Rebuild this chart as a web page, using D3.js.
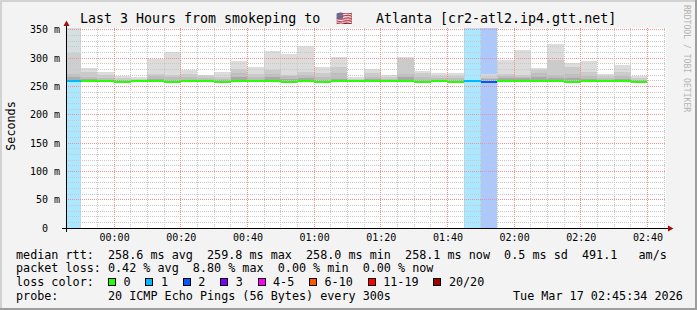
<!DOCTYPE html>
<html><head><meta charset="utf-8">
<script src="https://cdn.jsdelivr.net/npm/d3@7"></script>
<style>
html,body{margin:0;padding:0;background:#f3f3f3;}
svg{display:block;}
text{font-family:"DejaVu Sans Mono",monospace;white-space:pre;}
</style></head><body>
<svg id="c" width="697" height="310"></svg>
<script>
// ---- data ----
const binStarts = ["23:45","23:50","23:55","00:00","00:05","00:10","00:15","00:20","00:25","00:30","00:35","00:40","00:45","00:50","00:55","01:00","01:05","01:10","01:15","01:20","01:25","01:30","01:35","01:40","01:45","01:50","01:55","02:00","02:05","02:10","02:15","02:20","02:25","02:30","02:35"];
const median = [259.0,259.6,259.4,258.1,259.3,259.7,258.0,259.5,259.2,258.2,259.6,259.4,259.8,258.1,259.5,258.0,259.3,259.6,259.4,259.2,259.5,258.1,259.3,258.2,258.6,258.4,259.5,259.7,259.3,259.4,258.0,259.6,259.2,259.5,258.1];
const lossPings = [1,0,0,0,0,0,0,0,0,0,0,0,0,0,0,0,0,0,0,0,0,0,0,0,1,2,0,0,0,0,0,0,0,0,0];
const smokeMax  = [360,282,274.6,267.5,266.5,297.5,310.6,278,270.5,274.6,295,285,311.6,307,320.5,283.4,301.7,265.7,280.6,270.5,301.7,277.6,273.5,273.5,262,271,297,314.6,282.3,325,291,294,272,287,267.5];
const smokeHi   = [309,276,270.5,265,263,272,270.5,272,267.5,265.8,280.5,272,279,270.5,276,273.5,285,263,273.5,265.7,298.2,273.5,269,268,261,268,271.7,270.5,278,297,285,276,269,274.6,265];
const smokeMid  = [272,266,265,262,261.5,268.7,266.5,266,264,263,273.5,267,272,267.5,270,267,273.5,261.5,267,263,271.8,266,265,265,260.5,265,268,267,273.5,270,271,268,265,268,262];
const smokeDark = [267,263,262,260.5,260.5,263,262,262,261.5,261,266,262,266.5,263,265,262,263,260.5,263,261,267,262,262,262,260,263,264,264,266,265,264,263,262,263,260.5];
const yTicks = [0,50,100,150,200,250,300,350];
const yTickLabels = ["0  ","50 m","100 m","150 m","200 m","250 m","300 m","350 m"];
const xTickLabels = ["00:00","00:20","00:40","01:00","01:20","01:40","02:00","02:20","02:40"];
const lossLabels = ["0","1","2","3","4-5","6-10","11-19","20/20"];
const lossColors = ["#26ff00","#00b8ff","#0059ff","#7e00ff","#ff00ff","#ff5500","#ff0000","#a10000"];
const rttStats = ["258.6 ms avg","259.8 ms max","258.0 ms min","258.1 ms now","0.5 ms sd","491.1   am/s"];
const lossStats = ["0.42 % avg","8.80 % max","0.00 % min","0.00 % now"];
const titleParts = ["Last 3 Hours from smokeping to","🇺🇸","Atlanta [cr2-atl2.ip4.gtt.net]"];
const probeText = "20 ICMP Echo Pings (56 Bytes) every 300s";
const stampText = "Tue Mar 17 02:45:34 2026";

// ---- helpers ----
function toDate(hm){const [h,m]=hm.split(":").map(Number);return h>=12?new Date(2026,2,16,h,m,0):new Date(2026,2,17,h,m,0);}
function lossIdx(n){if(n<=3)return n;if(n<=5)return 4;if(n<=10)return 5;if(n<=19)return 6;return 7;}

const svg = d3.select("#c");
const W=697,H=310;
const X0=66,X1=666,Y0=228,Y1=28;
const t0=new Date(2026,2,16,23,45,34), t1=new Date(2026,2,17,2,45,34);
const x=d3.scaleTime().domain([t0,t1]).range([X0,X1]);
const y=d3.scaleLinear().domain([0,353]).range([Y0,Y1]);

// background and frame
svg.append("rect").attr("width",W).attr("height",H).attr("fill","#f3f3f3");
svg.append("rect").attr("x",0).attr("y",0).attr("width",W).attr("height",2).attr("fill","#d2d2d2");
svg.append("rect").attr("x",0).attr("y",0).attr("width",2).attr("height",H).attr("fill","#d2d2d2");
svg.append("rect").attr("x",0).attr("y",H-2).attr("width",W).attr("height",2).attr("fill","#9e9e9e");
svg.append("rect").attr("x",W-2).attr("y",0).attr("width",2).attr("height",H).attr("fill","#9e9e9e");

svg.append("rect").attr("x",X0).attr("y",Y1).attr("width",X1-X0).attr("height",Y0-Y1).attr("fill","#ffffff");

svg.append("defs").append("clipPath").attr("id","pc").append("rect")
  .attr("x",X0).attr("y",Y1).attr("width",X1-X0).attr("height",Y0-Y1);
const plot=svg.append("g").attr("clip-path","url(#pc)").attr("shape-rendering","crispEdges");

const bins=binStarts.map((s,i)=>{const a=toDate(s);const b=new Date(+a+300000);
  return {i,x0:Math.max(X0,Math.round(x(a))),x1:Math.round(x(b)),med:median[i],loss:lossPings[i]};});

// loss background columns
plot.append("g").selectAll("rect").data(bins.filter(d=>d.loss>0)).join("rect")
  .attr("x",d=>d.x0).attr("width",d=>d.x1-d.x0).attr("y",Y1).attr("height",Y0-Y1)
  .attr("fill",d=>d3.interpolateRgb("#ffffff",lossColors[lossIdx(d.loss)])(0.33));

// smoke layers
const layers=[[smokeMax,"#dcdcdc"],[smokeHi,"#cbcbcb"],[smokeMid,"#bdbdbd"],[smokeDark,"#a9a9a9"]];
layers.forEach(([arr,col])=>{
  plot.append("g").selectAll("rect").data(bins).join("rect")
    .attr("x",d=>d.x0).attr("width",d=>d.x1-d.x0)
    .attr("y",d=>Math.round(y(arr[d.i])))
    .attr("height",d=>Math.max(0,Math.round(y(d.med))-Math.round(y(arr[d.i]))))
    .attr("fill",col).attr("fill-opacity",d=>d.loss>0?0.85:1);
});

// grid
const grid=plot.append("g");
const minorY=d3.range(10,351,10).filter(v=>v%50!==0);
grid.selectAll("line.hmin").data(minorY).join("line").attr("class","hmin")
  .attr("x1",X0).attr("x2",X1).attr("y1",v=>Math.floor(y(v))+0.5).attr("y2",v=>Math.floor(y(v))+0.5)
  .attr("stroke","#c8c8c8").attr("stroke-dasharray","1,1");
const minorX=d3.timeMinute.every(5).range(t0,t1).filter(d=>d.getMinutes()%20!==0);
grid.selectAll("line.vmin").data(minorX).join("line").attr("class","vmin")
  .attr("y1",Y1).attr("y2",Y0).attr("x1",d=>Math.floor(x(d))+0.5).attr("x2",d=>Math.floor(x(d))+0.5)
  .attr("stroke","#c8c8c8").attr("stroke-dasharray","1,1");
grid.selectAll("line.hmaj").data(yTicks.filter(v=>v>0)).join("line").attr("class","hmaj")
  .attr("x1",X0).attr("x2",X1).attr("y1",v=>Math.floor(y(v))+0.5).attr("y2",v=>Math.floor(y(v))+0.5)
  .attr("stroke","#f09090").attr("stroke-dasharray","1,1");
const majorX=xTickLabels.map(toDate);
grid.selectAll("line.vmaj").data(majorX).join("line").attr("class","vmaj")
  .attr("y1",Y1).attr("y2",Y0).attr("x1",d=>Math.floor(x(d))+0.5).attr("x2",d=>Math.floor(x(d))+0.5)
  .attr("stroke","#f09090").attr("stroke-dasharray","1,1");

// median line (on top)
const medG=plot.append("g");
medG.selectAll("rect").data(bins).join("rect")
  .attr("x",d=>d.x0).attr("width",d=>d.x1-d.x0)
  .attr("y",d=>Math.round(y(d.med))-1).attr("height",2)
  .attr("fill",d=>lossColors[lossIdx(d.loss)]);

// axes
svg.append("line").attr("x1",62).attr("x2",668).attr("y1",Y0+0.5).attr("y2",Y0+0.5).attr("stroke","#000").attr("shape-rendering","crispEdges");
svg.append("line").attr("x1",X0+0.5).attr("x2",X0+0.5).attr("y1",232).attr("y2",25).attr("stroke","#000").attr("shape-rendering","crispEdges");
svg.append("path").attr("d",`M${X0+0.5},20.5L${X0+3.5},26L${X0-2.5},26Z`).attr("fill","#a01010");
svg.append("path").attr("d",`M673.5,${Y0+0.5}L668,${Y0-2.5}L668,${Y0+3.5}Z`).attr("fill","#a01010");

// tick labels
svg.append("g").selectAll("text").data(yTicks).join("text")
  .attr("x",60).attr("y",v=>y(v)+3.6).attr("text-anchor","end").attr("font-size","10px").attr("fill","#000")
  .text((v,i)=>yTickLabels[i]);
svg.append("g").selectAll("text").data(majorX).join("text")
  .attr("x",d=>x(d)+0.5).attr("y",240.6).attr("text-anchor","middle").attr("font-size","10px").attr("fill","#000")
  .text((d,i)=>xTickLabels[i]);

// title
const tt=svg.append("text").attr("y",23).attr("font-size","13.3px").attr("fill","#000");
tt.append("tspan").attr("x",80).text(titleParts[0]);
tt.append("tspan").attr("x",336).text(titleParts[1]);
tt.append("tspan").attr("x",376).text(titleParts[2]);

// y axis title
svg.append("text").attr("transform","translate(14.5,126) rotate(-90)").attr("text-anchor","middle")
  .attr("font-size","11.75px").attr("fill","#000").text("Seconds");

// watermark
svg.append("text").attr("transform","translate(683.5,5) rotate(90)").attr("font-size","8.1px")
  .attr("fill","#b4b4b4").text("RRDTOOL / TOBI OETIKER");

// legend
const LX=16, CW=7.08, LF="11.75px";
const lg=svg.append("g").attr("font-size",LF).attr("fill","#000");
lg.append("text").attr("x",LX).attr("y",258.5).text("median rtt:  "+rttStats.join("  "));
lg.append("text").attr("x",LX).attr("y",272.3).text("packet loss: "+lossStats.join("  "));
lg.append("text").attr("x",LX).attr("y",286.1).text("loss color:");
lg.append("text").attr("x",LX).attr("y",299.9).text("probe:       "+probeText);
lg.append("text").attr("x",513).attr("y",299.9).text(stampText);
let lxPos=108;
const items=lossLabels.map((l,i)=>{const it={l,c:lossColors[i],x:lxPos};lxPos+=15.5+l.length*CW+14.8;return it;});
lg.selectAll("rect.lb").data(items).join("rect").attr("class","lb")
  .attr("x",d=>Math.round(d.x)+0.5).attr("y",278.5).attr("width",7).attr("height",7)
  .attr("fill",d=>d.c).attr("stroke","#000").attr("stroke-width",1);
lg.selectAll("text.ll").data(items).join("text").attr("class","ll")
  .attr("x",d=>d.x+15.5).attr("y",286.1).text(d=>d.l);
</script></body></html>
